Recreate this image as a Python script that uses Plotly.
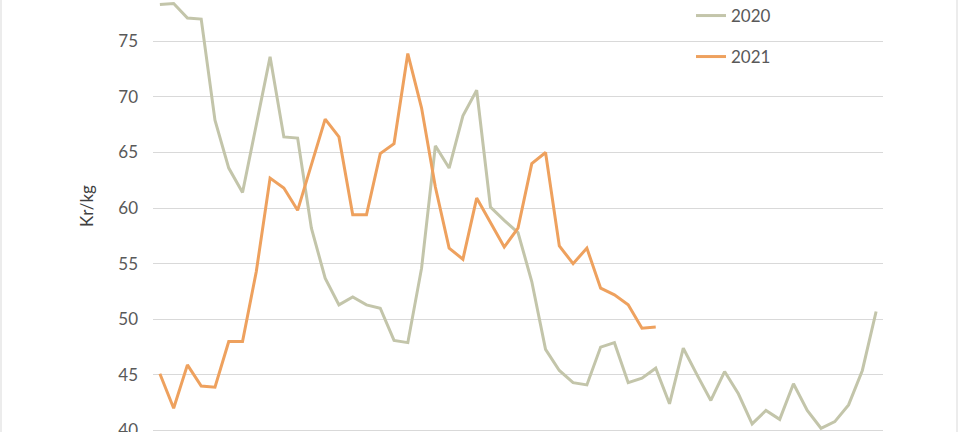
import plotly.graph_objects as go

weeks_2020 = list(range(1, 54))
prices_2020 = [78.3, 78.4, 77.1, 77.0, 67.9, 63.6, 61.4, 67.5, 73.6, 66.4,
               66.3, 58.2, 53.7, 51.3, 52.0, 51.3, 51.0, 48.1, 47.9, 54.6,
               65.6, 63.6, 68.3, 70.6, 60.1, 58.9, 57.8, 53.4, 47.3, 45.4,
               44.3, 44.1, 47.5, 47.9, 44.3, 44.7, 45.6, 42.4, 47.4, 45.0,
               42.7, 45.3, 43.3, 40.6, 41.8, 41.0, 44.2, 41.8, 40.2, 40.8,
               42.3, 45.4, 50.7]

weeks_2021 = list(range(1, 38))
prices_2021 = [45.1, 42.0, 45.9, 44.0, 43.9, 48.0, 48.0, 54.3, 62.7, 61.8,
               59.8, 64.0, 68.0, 66.4, 59.4, 59.4, 64.9, 65.8, 73.9, 69.0,
               61.9, 56.4, 55.4, 60.9, 58.7, 56.5, 58.2, 64.0, 65.0, 56.6,
               55.0, 56.4, 52.8, 52.2, 51.3, 49.2, 49.3]

y_ticks = [40, 45, 50, 55, 60, 65, 70, 75]
series_names = ["2020", "2021"]
y_title = "Kr/kg"

FONT = "Lato, Calibri, 'Open Sans', sans-serif"

fig = go.Figure()
fig.add_trace(go.Scatter(x=weeks_2020, y=prices_2020, mode="lines", name=series_names[0],
                         line=dict(color="#C3C5AA", width=3), legend="legend"))
fig.add_trace(go.Scatter(x=weeks_2021, y=prices_2021, mode="lines", name=series_names[1],
                         line=dict(color="#EEA15E", width=3), legend="legend2"))

W, H = 960, 432
L, R = 153, 883
plot_w = R - L

def px_to_paper_x(px):
    return (px - L) / plot_w

legend_style = dict(font=dict(family=FONT, size=17, color="#595959"),
                    bgcolor="rgba(0,0,0,0)", borderwidth=0,
                    xanchor="left", yanchor="middle", x=px_to_paper_x(691))

fig.update_layout(
    width=W, height=H,
    margin=dict(l=L, r=W - R, t=0, b=0, pad=0, autoexpand=False),
    paper_bgcolor="white", plot_bgcolor="white",
    font=dict(family=FONT, size=17, color="#595959"),
    showlegend=True,
    legend=dict(**legend_style, y=1 - 16 / H),
    legend2=dict(**legend_style, y=1 - 57 / H),
    xaxis=dict(range=[0.5, 53.5], showticklabels=False, showgrid=False,
               zeroline=False, showline=False, ticks="", automargin=False),
    yaxis=dict(range=[40 - 1.5 / 11.12, 40 + 430.5 / 11.12], tickvals=y_ticks,
               showgrid=True, gridcolor="#D9D9D9", gridwidth=1,
               zeroline=False, showline=False, ticks="", automargin=False,
               ticklabelstandoff=14, ticklabeloverflow="allow",
               tickfont=dict(family=FONT, size=17, color="#595959")),
    annotations=[dict(text=y_title, textangle=-90, xref="paper", yref="paper",
                      x=px_to_paper_x(86), y=1 - 206 / H, xanchor="center", yanchor="middle",
                      showarrow=False, font=dict(family=FONT, size=17, color="#404040"))],
    shapes=[
        dict(type="line", xref="paper", yref="paper", x0=px_to_paper_x(1), x1=px_to_paper_x(1),
             y0=-0.1, y1=1.1, line=dict(color="#D9D9D9", width=1)),
        dict(type="line", xref="paper", yref="paper", x0=px_to_paper_x(957), x1=px_to_paper_x(957),
             y0=-0.1, y1=1.1, line=dict(color="#D9D9D9", width=1)),
    ],
)

fig.write_html("out.html", config={"displayModeBar": False},
               post_script="document.body.style.margin='0px';document.body.style.overflow='hidden';")
